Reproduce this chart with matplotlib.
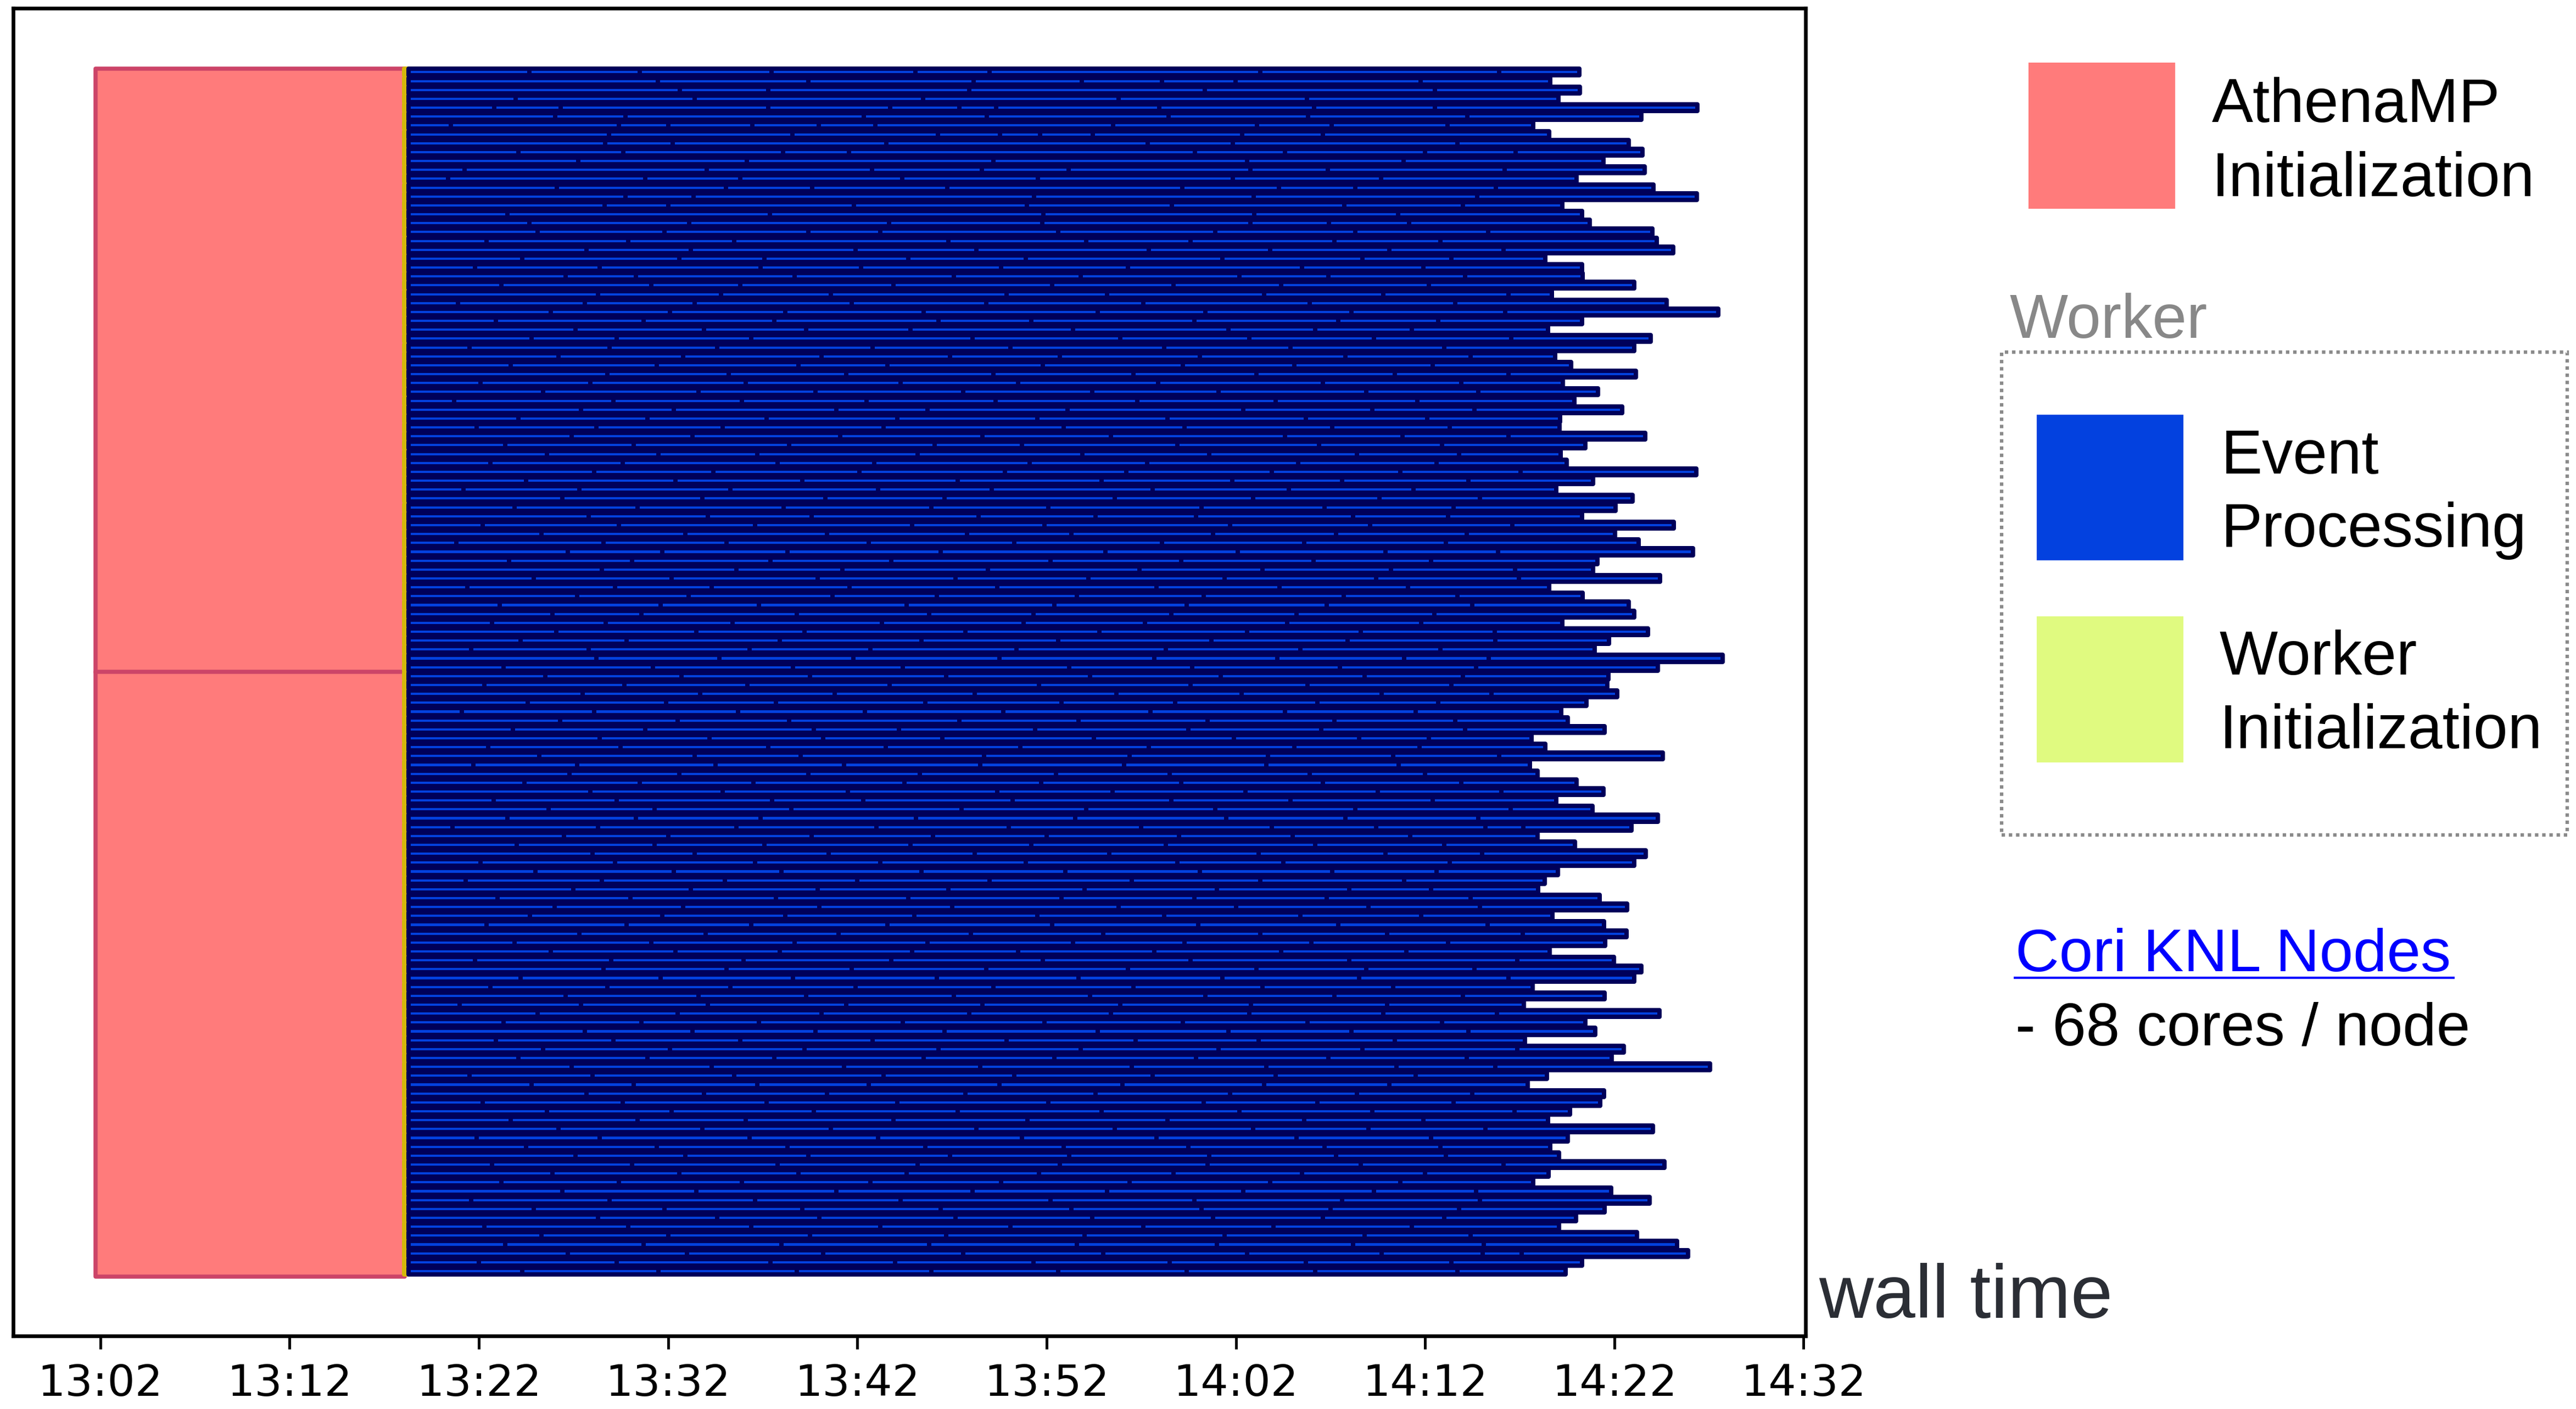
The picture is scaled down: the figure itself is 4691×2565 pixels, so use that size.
import matplotlib
matplotlib.use('Agg')
import matplotlib.pyplot as plt
from matplotlib.patches import Rectangle

# x axis: minutes after 13:02
tick_labels = ['13:02', '13:12', '13:22', '13:32', '13:42', '13:52',
               '14:02', '14:12', '14:22', '14:32']

cores_per_node = 68
n_nodes = 2

# AthenaMP initialization per node (start, end) in minutes
athena_init = [(-0.25, 16.1), (-0.25, 16.1)]
# worker initialization (start, end)
worker_init = (16.05, 16.3)

# end of the last event for every worker (minutes after 13:02)
worker_end = [
    78.14, 76.62, 78.17, 77.06, 84.40, 81.44, 75.70, 76.55, 80.77, 81.48,
    79.42, 81.61, 78.00, 82.06, 84.35, 77.24, 78.28, 78.71, 82.02, 82.23,
    83.10, 76.35, 78.28, 78.31, 81.04, 76.69, 82.76, 85.50, 78.30, 76.49,
    81.91, 81.04, 76.86, 77.71, 81.14, 77.29, 79.13, 77.88, 80.40, 77.13,
    77.11, 81.64, 78.46, 77.15, 77.47, 84.32, 78.86, 76.94, 80.96, 80.05,
    78.29, 83.15, 80.02, 81.27, 84.14, 79.12, 78.86, 82.42, 76.55, 78.31,
    80.75, 81.04, 77.25, 81.78, 79.72, 78.97, 85.72, 82.30,
    79.68, 79.62, 80.16, 78.54, 77.18, 77.54, 79.47, 75.61, 76.36, 82.56,
    75.54, 75.93, 78.01, 79.42, 76.93, 78.85, 82.30, 80.91, 75.93, 77.93,
    81.66, 81.05, 77.03, 76.31, 75.97, 79.23, 80.66, 76.74, 79.46, 80.65,
    79.50, 76.57, 79.99, 81.43, 81.05, 75.68, 79.47, 75.23, 82.39, 78.47,
    79.00, 75.27, 80.49, 79.85, 85.05, 76.45, 75.42, 79.46, 79.26, 77.66,
    76.49, 82.05, 77.54, 76.62, 77.08, 82.64, 76.51, 75.70, 79.83, 81.87,
    79.47, 77.97, 77.08, 81.19, 83.31, 83.89, 78.28, 77.41,
]

# times where one event ends and the next one starts, per worker
event_cuts = [
    [22.66, 28.51, 35.47, 43.07, 46.98, 61.29, 73.90],
    [29.45, 37.42, 46.16, 51.86, 56.09, 59.99, 69.75],
    [30.63, 35.30, 45.92, 58.36, 70.52],
    [21.96, 31.40, 43.48, 53.81, 63.77],
    [20.83, 24.32, 35.30, 41.73, 45.39, 47.34, 55.96, 64.14, 70.52],
    [24.04, 27.74, 40.35, 46.85, 56.45, 63.81, 72.23],
    [18.51, 27.41, 30.02, 34.45, 37.95, 40.96, 53.52, 61.13, 65.07, 71.18],
    [26.89, 36.56, 44.25, 47.55, 49.66, 52.43, 60.32, 64.59],
    [26.68, 30.26, 41.53, 55.35, 59.83, 71.70],
    [22.09, 27.62, 36.08, 39.57, 57.83, 62.59, 69.99, 74.79],
    [25.26, 34.17, 47.18, 60.60, 68.86],
    [19.24, 32.05, 40.79, 46.57, 51.17, 60.76, 64.87, 74.19],
    [18.39, 28.80, 33.80, 42.38, 49.54, 59.83, 67.68],
    [24.12, 33.07, 37.62, 44.74, 57.18, 62.27, 66.30, 73.74],
    [27.74, 31.36, 49.34, 60.93, 72.76],
    [26.64, 30.02, 39.82, 48.97, 56.62, 65.73, 71.99],
    [21.52, 35.39, 49.82, 60.97, 68.57],
    [22.66, 31.11, 41.69, 49.78, 60.76, 64.91, 69.14],
    [23.1, 29.8, 37.4, 41.2, 50.6, 58.9, 66.3, 73.33],
    [20.4, 27.9, 33.5, 44.8, 52.1, 57.6, 65.2, 70.8],
    [25.7, 31.2, 39.9, 46.3, 55.4, 61.8, 68.1, 74.15],
    [22.3, 30.6, 35.1, 42.7, 48.9, 59.3, 66.7, 71.4],
    [19.8, 26.4, 34.9, 40.2, 47.6, 54.3, 63.5, 69.9],
    [24.6, 28.3, 36.7, 45.1, 51.8, 60.2, 64.9, 72.1],
    [21.2, 29.1, 33.8, 41.9, 50.3, 56.7, 62.4, 70.2],
    [26.3, 32.8, 38.6, 47.9, 53.2, 61.5, 67.8, 74.42],
    [18.9, 25.6, 31.4, 39.7, 46.8, 55.1, 63.9, 71.6],
    [23.8, 30.1, 36.2, 43.5, 52.7, 58.4, 66.1, 74.23],
    [20.9, 28.7, 35.6, 44.3, 49.2, 57.8, 65.4, 70.7],
    [25.1, 31.9, 37.3, 42.8, 51.4, 59.6, 64.2, 69.3],
    [22.8, 27.3, 34.4, 46.1, 53.9, 60.7, 67.3, 74.54],
    [19.5, 26.9, 32.6, 40.8, 48.1, 56.2, 62.9, 71.0],
    [24.2, 30.8, 38.1, 44.9, 50.7, 58.1, 65.8, 72.4],
    [21.7, 29.4, 36.9, 41.6, 49.8, 57.2, 63.1, 70.4],
    [26.8, 33.2, 39.4, 47.2, 54.6, 61.1, 68.4, 74.40],
    [20.1, 25.9, 34.1, 42.3, 48.5, 55.9, 64.6, 71.9],
    [23.4, 31.6, 37.8, 45.6, 52.4, 59.1, 66.9, 72.8],
    [18.7, 27.1, 33.9, 40.5, 47.3, 54.8, 62.1, 69.6],
    [25.4, 30.3, 38.9, 43.7, 51.1, 60.4, 67.2, 72.6],
    [22.1, 28.9, 35.2, 42.1, 49.5, 56.4, 63.7, 70.1],
    [19.9, 26.2, 32.9, 41.4, 50.9, 57.3, 65.1, 71.3],
    [24.9, 31.3, 39.1, 46.6, 53.4, 62.6, 68.8, 74.42],
    [21.4, 28.2, 36.4, 44.1, 48.7, 56.9, 64.4, 70.9],
    [23.6, 29.5, 34.7, 43.2, 51.9, 58.6, 66.4, 71.8],
    [20.6, 27.6, 35.8, 40.9, 49.1, 55.3, 63.3, 70.6],
    [26.1, 32.4, 40.1, 47.8, 54.2, 61.9, 68.7, 75.05],
    [22.5, 30.4, 37.1, 45.3, 52.9, 59.8, 65.6, 72.3],
    [19.2, 25.3, 33.3, 41.1, 47.1, 55.6, 62.8, 69.4],
    [24.4, 31.8, 38.3, 44.6, 53.6, 60.9, 67.6, 72.9],
    [21.9, 28.4, 36.1, 43.9, 50.1, 58.2, 64.7, 71.5],
    [25.8, 32.1, 37.6, 46.4, 52.6, 57.9, 66.2, 71.2],
    [20.2, 27.4, 34.6, 42.9, 49.9, 59.7, 67.1, 74.61],
    [23.3, 30.9, 38.4, 45.8, 51.3, 58.8, 65.3, 72.2],
    [18.8, 26.6, 33.1, 40.6, 48.3, 56.1, 63.6, 71.1],
    [24.7, 29.7, 36.3, 44.4, 53.1, 60.1, 67.9, 73.86],
    [21.6, 28.1, 35.4, 41.8, 50.2, 57.1, 64.1, 70.3],
    [26.5, 33.6, 39.2, 46.9, 54.9, 61.4, 68.2, 74.76],
    [22.9, 30.2, 37.9, 45.2, 52.2, 59.4, 67.4, 74.95],
    [19.4, 27.2, 32.3, 39.6, 47.4, 55.8, 62.3, 69.1],
    [25.2, 31.1, 38.7, 44.2, 51.6, 58.3, 65.7, 71.7],
    [21.1, 29.6, 34.8, 42.6, 50.4, 57.4, 64.8, 72.5],
    [23.9, 28.6, 36.8, 43.8, 49.3, 56.6, 63.2, 70.5],
    [20.7, 26.7, 33.4, 41.3, 48.8, 55.2, 62.7, 69.8],
    [24.1, 31.5, 37.2, 45.7, 52.8, 60.6, 66.6, 73.67],
    [22.2, 27.8, 35.9, 43.4, 50.6, 58.7, 65.9, 73.72],
    [19.6, 25.8, 34.3, 40.7, 48.4, 56.3, 63.4, 70.8],
    [26.2, 32.7, 39.8, 47.5, 55.7, 62.2, 68.9, 73.36],
    [21.3, 29.2, 36.6, 42.4, 51.2, 57.7, 65.5, 72.7],
    [23.5, 30.7, 37.5, 44.7, 52.3, 59.2, 66.8, 72.0],
    [20.3, 27.7, 34.2, 41.7, 49.6, 57.6, 63.8, 71.4],
    [25.5, 31.7, 38.8, 46.2, 53.7, 60.3, 67.7, 73.5],
    [22.6, 29.9, 35.7, 43.6, 50.8, 56.8, 64.3, 70.7],
    [19.1, 26.1, 33.7, 40.4, 47.7, 55.5, 62.6, 69.5],
    [24.3, 30.5, 36.4, 45.4, 51.7, 58.5, 65.2, 71.6],
    [21.8, 28.8, 37.7, 42.2, 49.4, 57.5, 64.5, 72.1],
    [26.4, 32.2, 38.2, 44.5, 52.5, 59.9, 66.5, 70.2],
    [20.5, 27.5, 35.3, 41.5, 48.6, 55.4, 63.1, 69.7],
    [23.2, 31.4, 37.0, 46.7, 54.4, 61.7, 68.3, 73.9],
    [19.7, 25.2, 32.5, 39.3, 46.5, 54.1, 61.6, 68.6],
    [24.8, 30.6, 37.4, 43.3, 50.5, 56.5, 63.9, 70.0],
    [22.4, 28.5, 34.5, 42.5, 49.7, 57.1, 64.6, 71.9],
    [25.9, 32.9, 39.5, 47.4, 53.5, 60.5, 67.5, 74.02],
    [20.8, 27.3, 35.5, 40.3, 48.2, 56.6, 62.9, 70.4],
    [23.7, 29.3, 36.5, 45.5, 52.1, 58.9, 66.3, 74.52],
    [21.5, 28.3, 34.9, 43.1, 51.5, 59.5, 65.8, 72.8],
    [18.6, 26.3, 33.6, 41.0, 48.0, 55.0, 61.9, 67.4, 73.18, 75.18],
    [24.5, 30.0, 37.6, 44.0, 50.0, 57.0, 63.0, 69.2],
    [22.0, 29.3, 35.1, 42.8, 49.2, 56.3, 64.2, 71.0],
    [26.0, 31.4, 38.5, 46.2, 53.3, 61.2, 67.9, 73.0],
    [20.1, 27.2, 34.6, 41.2, 48.9, 56.9, 62.5, 71.3],
    [23.0, 30.3, 36.0, 43.4, 51.0, 58.1, 65.1, 70.6],
    [19.3, 26.5, 33.0, 40.0, 47.0, 54.5, 61.3, 68.9],
    [25.0, 31.2, 37.9, 44.8, 52.0, 59.0, 66.0, 70.3],
    [21.0, 28.0, 35.7, 42.7, 50.8, 57.8, 64.8, 72.4],
    [24.0, 30.8, 38.0, 45.0, 53.8, 60.0, 67.0, 72.9],
    [22.7, 29.7, 36.2, 43.0, 49.5, 56.2, 63.4, 69.8],
    [20.4, 27.8, 34.4, 41.6, 50.3, 58.0, 65.4, 73.31],
    [25.3, 32.0, 39.0, 46.0, 53.0, 61.3, 68.0, 75.15],
    [21.9, 29.1, 36.7, 43.7, 51.4, 57.3, 64.0, 71.2],
    [23.8, 30.4, 35.9, 42.9, 48.5, 55.7, 62.4, 69.0],
    [19.8, 27.0, 34.0, 41.8, 49.8, 57.6, 66.0, 74.87],
    [26.6, 33.1, 39.7, 46.8, 54.3, 61.1, 66.9, 72.6],
    [22.2, 29.6, 36.6, 44.2, 51.7, 59.3, 66.5, 74.42],
    [20.6, 26.8, 33.3, 39.9, 47.2, 54.6, 61.4, 68.3],
    [24.6, 31.6, 37.3, 45.1, 52.3, 58.4, 65.2, 72.0],
    [19.0, 25.4, 32.1, 39.4, 46.6, 53.9, 60.8, 68.0],
    [23.1, 30.5, 38.1, 45.9, 53.4, 60.7, 67.8, 73.8],
    [21.3, 28.6, 34.8, 42.4, 49.9, 57.2, 63.8, 70.9],
    [25.6, 31.3, 37.8, 44.6, 52.7, 59.6, 66.1, 72.3],
    [20.9, 27.1, 33.8, 40.8, 47.9, 54.7, 61.2, 68.4],
    [23.4, 30.1, 37.2, 44.3, 51.8, 59.1, 66.7, 74.88],
    [22.1, 28.9, 35.6, 43.5, 50.4, 57.9, 64.9, 72.2],
    [24.9, 32.3, 39.3, 46.5, 54.5, 61.6, 68.5, 73.7],
    [19.5, 26.0, 33.5, 41.4, 48.3, 55.6, 62.1, 69.5],
    [22.8, 28.2, 34.7, 40.6, 47.5, 54.0, 61.5, 68.1],
    [25.7, 31.9, 38.4, 45.7, 52.6, 59.7, 66.4, 72.5],
    [20.2, 27.6, 35.2, 42.1, 50.1, 58.3, 64.3, 71.5],
    [23.6, 30.2, 37.7, 45.3, 52.9, 60.2, 67.2, 74.73],
    [21.7, 28.4, 34.1, 41.9, 49.0, 56.4, 63.6, 69.9],
    [24.2, 31.8, 38.6, 46.3, 53.6, 60.9, 67.0, 73.18],
    [19.9, 26.4, 34.3, 41.1, 48.7, 55.8, 63.2, 70.3],
    [22.5, 29.4, 36.3, 43.6, 50.9, 57.5, 64.7, 70.8],
    [25.1, 30.9, 37.4, 44.9, 51.2, 58.6, 65.3, 71.1],
    [20.7, 28.1, 35.8, 43.2, 50.7, 58.5, 66.6, 74.13],
    [23.9, 30.6, 36.9, 42.6, 49.6, 56.7, 63.5, 70.0],
    [21.2, 27.4, 33.9, 40.7, 47.6, 54.4, 61.8, 68.7],
    [24.4, 31.5, 38.9, 46.1, 53.2, 60.4, 67.3, 72.7],
    [19.6, 26.9, 34.6, 42.3, 50.2, 57.8, 65.6, 72.9],
    [22.9, 29.8, 37.1, 44.4, 51.3, 58.2, 65.0, 71.8],
    [26.3, 32.6, 38.0, 45.2, 52.4, 58.8, 64.6, 71.0],
    [20.3, 27.9, 34.4, 41.2, 48.1, 55.1, 62.0, 69.3],
    [23.3, 30.0, 37.5, 44.7, 52.0, 59.4, 66.8, 72.4],
    [21.4, 28.7, 36.0, 43.8, 51.6, 59.0, 66.2, 73.1],
    [24.7, 31.0, 38.2, 45.6, 53.0, 60.6, 67.7, 73.05, 75.10],
    [20.0, 27.3, 35.4, 42.0, 49.3, 56.5, 63.7, 71.4],
    [22.3, 29.5, 36.8, 43.9, 50.6, 57.4, 64.2, 71.7],
]

c_athena = '#ff7b7b'
c_athena_edge = '#cc4468'
c_event = '#0341df'
c_event_edge = '#00005a'
c_winit = '#e0fa80'
c_winit_edge = '#d4b80a'

fig = plt.figure(figsize=(4691 / 300, 2565 / 300), dpi=300)
ax = fig.add_axes([0.00512, 0.05185, 0.69578, 0.9423])

n_workers = cores_per_node * n_nodes
bar_h = 0.75

# AthenaMP initialization, one block per node
for k, (s, e) in enumerate(athena_init):
    y0 = k * cores_per_node - 0.4 if k == 0 else k * cores_per_node - 0.5
    y1 = (k + 1) * cores_per_node - 0.4
    ax.broken_barh([(s, e - s)], (y0, y1 - y0), facecolors=c_athena,
                   edgecolors=c_athena_edge, linewidth=1.8, zorder=1)

for i in range(n_workers):
    ax.broken_barh([(worker_init[0], worker_init[1] - worker_init[0])],
                   (i - bar_h / 2, bar_h), facecolors=c_winit,
                   edgecolors=c_winit_edge, linewidth=1.9, joinstyle='round',
                   zorder=2)
    edges = [worker_init[1]] + event_cuts[i] + [worker_end[i]]
    xr = [(edges[j], edges[j + 1] - edges[j]) for j in range(len(edges) - 1)]
    ax.broken_barh(xr, (i - bar_h / 2, bar_h), facecolors=c_event,
                   edgecolors=c_event_edge, linewidth=1.92, joinstyle='round',
                   zorder=3)

ticks = [int(t.split(':')[0]) * 60 + int(t.split(':')[1]) - (13 * 60 + 2)
         for t in tick_labels]
ax.set_xticks(ticks)
ax.set_xticklabels(tick_labels, fontsize=19, family='DejaVu Sans')
ax.set_xlim(-4.6, 90.1)
ax.set_ylim(142.3, -7.2)
ax.set_yticks([])
ax.tick_params(axis='x', length=5.8, width=1.2, pad=6)
for sp in ax.spines.values():
    sp.set_linewidth(1.6)

W, H = 4691.0, 2565.0


def fx(px):
    return px / W


def fy(py):
    return 1 - py / H


def patch(x0, y0, x1, y1, color):
    fig.patches.append(Rectangle((fx(x0), fy(y1)), fx(x1) - fx(x0),
                                 fy(y0) - fy(y1), transform=fig.transFigure,
                                 facecolor=color, edgecolor='none'))


lfont = 'Liberation Sans'

patch(3694, 114, 3961, 380, c_athena)
fig.text(fx(4028), fy(222), 'AthenaMP', fontsize=27, family=lfont, va='baseline')
fig.text(fx(4028), fy(357), 'Initialization', fontsize=27, family=lfont, va='baseline')

fig.text(fx(3659), fy(615), 'Worker', fontsize=27, family=lfont, va='baseline',
         color='#888888')
fig.patches.append(Rectangle((fx(3645), fy(1520)), fx(4675) - fx(3645),
                             fy(641) - fy(1520), transform=fig.transFigure,
                             facecolor='none', edgecolor='#8a8a8a',
                             linestyle=(0, (1.0, 1.1)), linewidth=1.5))

patch(3709, 755, 3976, 1020, c_event)
fig.text(fx(4045), fy(862), 'Event', fontsize=27, family=lfont, va='baseline')
fig.text(fx(4045), fy(995), 'Processing', fontsize=27, family=lfont, va='baseline')

patch(3709, 1122, 3976, 1388, c_winit)
fig.text(fx(4042), fy(1228), 'Worker', fontsize=27, family=lfont, va='baseline')
fig.text(fx(4042), fy(1362), 'Initialization', fontsize=27, family=lfont, va='baseline')

fig.text(fx(3670), fy(1768), 'Cori KNL Nodes', fontsize=26.5, family=lfont,
         va='baseline', color='#0000ff')
fig.lines.append(plt.Line2D([fx(3667), fx(4470)], [fy(1780), fy(1780)],
                            transform=fig.transFigure, color='#0000ff',
                            linewidth=1.0, solid_capstyle='butt'))
fig.text(fx(3670), fy(1903), '- 68 cores / node', fontsize=26.5, family=lfont,
         va='baseline')

fig.text(fx(3312), fy(2399), 'wall time', fontsize=33, family=lfont,
         va='baseline', color='#2b2e35')

fig.savefig('out.png', dpi=300)
